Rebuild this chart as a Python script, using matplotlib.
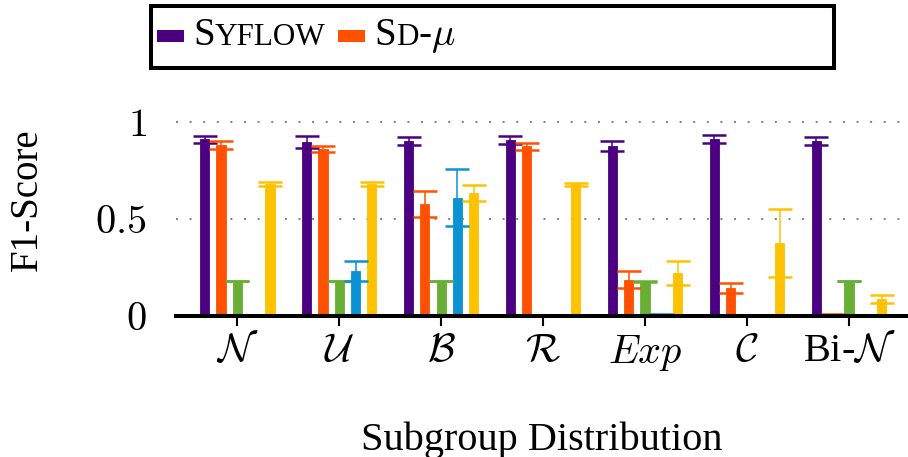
import matplotlib
matplotlib.use("Agg")
import matplotlib.pyplot as plt
import numpy as np
from matplotlib.patches import Rectangle
from matplotlib.offsetbox import AnchoredOffsetbox, DrawingArea, HPacker, TextArea

plt.rcParams["font.family"] = ["Liberation Serif", "DejaVu Serif"]
plt.rcParams["mathtext.fontset"] = "cm"

# subgroup distributions on the x axis
categories = [r"$\mathcal{N}$", r"$\mathcal{U}$", r"$\mathcal{B}$", r"$\mathcal{R}$",
              r"$Exp$", r"$\mathcal{C}$", r"Bi-$\mathcal{N}$"]

# mean F1 and std per method
syflow_mean = [0.910, 0.895, 0.901, 0.907, 0.876, 0.911, 0.901]
syflow_err = [0.020, 0.031, 0.021, 0.021, 0.026, 0.021, 0.020]
sdmu_mean = [0.881, 0.862, 0.577, 0.875, 0.186, 0.144, 0.008]
sdmu_err = [0.019, 0.016, 0.069, 0.018, 0.044, 0.026, 0.003]
m3_mean = [0.180, 0.180, 0.180, 0.000, 0.179, 0.005, 0.180]
m3_err = [0.002, 0.002, 0.002, 0.000, 0.002, 0.000, 0.002]
m4_mean = [0.003, 0.232, 0.610, 0.000, 0.008, 0.005, 0.000]
m4_err = [0.000, 0.050, 0.146, 0.000, 0.002, 0.000, 0.000]
m5_mean = [0.680, 0.680, 0.636, 0.679, 0.221, 0.375, 0.088]
m5_err = [0.010, 0.010, 0.041, 0.009, 0.063, 0.176, 0.021]

series = [
    (syflow_mean, syflow_err, "#4b0082"),
    (sdmu_mean, sdmu_err, "#ff5100"),
    (m3_mean, m3_err, "#6aaf35"),
    (m4_mean, m4_err, "#0b92d3"),
    (m5_mean, m5_err, "#fec200"),
]

W, H = 908, 457
fig = plt.figure(figsize=(W / 100, H / 100), dpi=100)
ax = fig.add_axes([176 / W, 141 / H, (W - 176) / W, 213.4 / H])

x = np.arange(len(categories))
bar_w = 0.091
step = 0.16
for i, (mean, err, col) in enumerate(series):
    pos = x + (i - 2) * step
    ax.bar(pos, mean, width=bar_w, color=col, edgecolor=col, linewidth=0.6, zorder=3)
    ax.errorbar(pos, mean, yerr=err, fmt="none", ecolor=col, elinewidth=1.1,
                capsize=8.3, capthick=1.8, zorder=4)

ax.set_xlim(-0.601, 6.579)
ax.set_ylim(0, 1.1)
ax.set_xticks(x)
ax.set_xticklabels(categories, fontsize=29)
ax.set_yticks([0, 0.5, 1])
ax.set_yticklabels(["$0$", "$0.5$", "$1$"], fontsize=29)

for s in ("top", "right", "left"):
    ax.spines[s].set_visible(False)
ax.spines["bottom"].set_linewidth(2.9)
ax.spines["bottom"].set_zorder(5)
ax.tick_params(axis="x", direction="out", length=7, width=1.5, pad=5)
ax.tick_params(axis="y", length=0, pad=21)
ax.yaxis.grid(True, linestyle=(0, (1, 6)), linewidth=1.4, color="#808080", zorder=1)
ax.set_axisbelow(True)

ax.set_xlabel("Subgroup Distribution", fontsize=29, labelpad=35)
ax.set_ylabel("F1-Score", fontsize=28)
ax.yaxis.set_label_coords(-0.178, 0.544)

# legend frame and entries (small caps method names)
fig.patches.append(Rectangle((151 / W, 1 - 68 / H), 683 / W, 62 / H, transform=fig.transFigure,
                             fill=False, edgecolor="black", linewidth=2.9, zorder=10))


def handle(col):
    da = DrawingArea(19.7, 10.8, 0, 0)
    da.add_artist(Rectangle((0, 2.4), 19.7, 8.4, facecolor=col, edgecolor="none"))
    return da


big, small = 28, 22.4


def label(parts):
    boxes = [TextArea(t, textprops=dict(size=sz)) for t, sz in parts]
    return HPacker(children=boxes, sep=0, pad=0, align="baseline")


entry1 = HPacker(children=[handle("#4b0082"), label([("S", big), ("YFLOW", small)])],
                 sep=6.5, pad=0, align="baseline")
entry2 = HPacker(children=[handle("#ff5100"),
                           label([("S", big), ("D", small), ("-", big), (r"$\mu$", big)])],
                 sep=6.5, pad=0, align="baseline")
row = HPacker(children=[entry1, entry2], sep=9, pad=0, align="baseline")
box = AnchoredOffsetbox(loc="center left", child=row, pad=0, borderpad=0, frameon=False,
                        bbox_to_anchor=(156.7 / W, 1 - 36 / H), bbox_transform=fig.transFigure)
fig.add_artist(box)

fig.savefig("out.png", dpi=100)
